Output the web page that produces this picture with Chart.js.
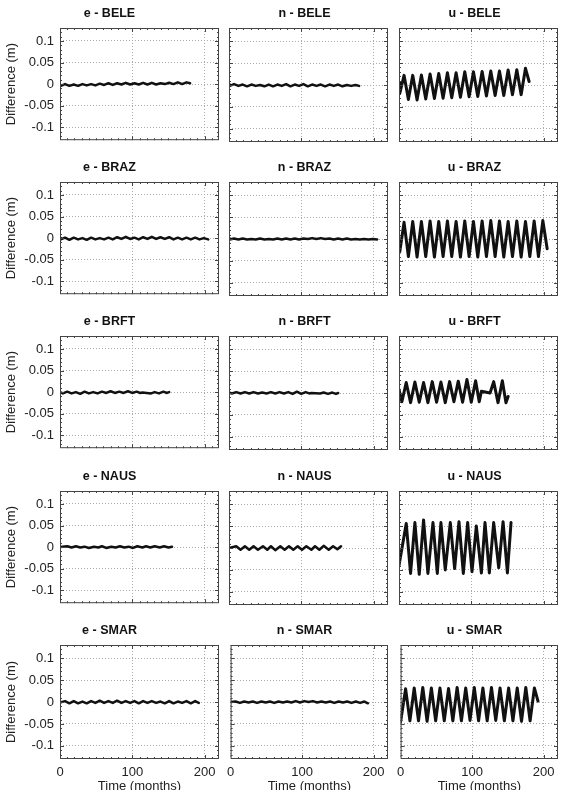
<!DOCTYPE html>
<html>
<head>
<meta charset="utf-8">
<script src="https://cdn.jsdelivr.net/npm/chart.js@4.4.1/dist/chart.umd.min.js"></script>
<style>
  body { margin: 0; background: #fff; width: 564px; height: 790px; position: relative; overflow: hidden; }
  canvas { position: absolute; }
</style>
</head>
<body>
<script>
// ticks
const xTicks = [0, 100, 200];
const yTicks = [-0.1, -0.05, 0, 0.05, 0.1];
const yTickLabels = ["-0.1", "-0.05", "0", "0.05", "0.1"];

// time (months) per station, values (m) per component
const tBELE = [0, 1, 7, 13, 19, 25, 31, 37, 43, 49, 55, 61, 67, 73, 79, 85, 91, 97, 103, 109, 115, 121, 127, 133, 139, 145, 151, 157, 163, 169, 175, 180];
const eBELE = [-0.002, -0.004, 0.000, -0.004, -0.001, -0.004, 0.000, -0.003, 0.000, -0.003, 0.001, -0.002, 0.002, -0.002, 0.002, -0.001, 0.003, -0.001, 0.002, -0.001, 0.003, -0.001, 0.003, -0.001, 0.002, 0.000, 0.003, 0.000, 0.004, 0.000, 0.004, 0.002];
const nBELE = [0.001, -0.002, 0.002, -0.002, 0.001, -0.003, 0.001, -0.002, 0.000, -0.003, 0.001, -0.003, 0.001, -0.002, 0.002, -0.003, 0.001, -0.002, 0.002, -0.003, 0.001, -0.002, 0.001, -0.003, 0.001, -0.002, 0.001, -0.003, 0.000, -0.002, 0.000, -0.002];
const uBELE = [0.005, -0.02, 0.022, -0.033, 0.022, -0.034, 0.023, -0.032, 0.025, -0.031, 0.026, -0.03, 0.028, -0.029, 0.028, -0.028, 0.03, -0.027, 0.03, -0.026, 0.031, -0.025, 0.032, -0.024, 0.032, -0.024, 0.034, -0.022, 0.035, -0.022, 0.038, 0.008];

const tBRAZ = [0, 1, 7, 13, 19, 25, 31, 37, 43, 49, 55, 61, 67, 73, 79, 85, 91, 97, 103, 109, 115, 121, 127, 133, 139, 145, 151, 157, 163, 169, 175, 181, 187, 193, 199, 205];
const eBRAZ = [0.000, -0.003, 0.001, -0.004, 0.001, -0.003, 0.000, -0.004, 0.001, -0.003, 0.000, -0.003, 0.001, -0.003, 0.002, -0.002, 0.003, -0.002, 0.001, -0.003, 0.002, -0.002, 0.003, -0.002, 0.002, -0.002, 0.002, -0.003, 0.001, -0.003, 0.001, -0.003, 0.001, -0.003, 0.000, -0.003];
const nBRAZ = [0.001, -0.001, 0.001, -0.001, 0.001, -0.001, 0.000, -0.001, 0.001, -0.001, 0.000, -0.001, 0.001, -0.001, 0.001, -0.001, 0.001, -0.001, 0.001, 0.000, 0.002, 0.000, 0.002, 0.000, 0.001, -0.001, 0.001, -0.001, 0.001, -0.001, 0.000, -0.001, 0.000, -0.001, 0.000, -0.001];
const uBRAZ = [-0.012, -0.03, 0.038, -0.04, 0.04, -0.041, 0.04, -0.04, 0.041, -0.041, 0.04, -0.04, 0.041, -0.04, 0.04, -0.041, 0.041, -0.04, 0.04, -0.041, 0.041, -0.04, 0.042, -0.04, 0.041, -0.041, 0.04, -0.04, 0.041, -0.041, 0.04, -0.04, 0.041, -0.04, 0.042, -0.022];

const tBRFT = [0, 4, 10, 16, 22, 28, 34, 40, 46, 52, 58, 64, 70, 76, 82, 88, 94, 100, 106, 111, 114, 126, 131, 137, 143, 148, 151];
const eBRFT = [0.000, -0.003, 0.001, -0.003, 0.000, -0.004, 0.001, -0.003, 0.000, -0.003, 0.001, -0.002, 0.002, -0.002, 0.001, -0.002, 0.002, -0.002, 0.001, -0.002, -0.001, -0.003, 0.000, -0.003, 0.001, -0.002, 0.000];
const nBRFT = [0.001, -0.001, 0.002, -0.001, 0.002, -0.001, 0.002, -0.001, 0.001, -0.001, 0.002, -0.001, 0.002, -0.001, 0.002, -0.002, 0.003, -0.002, 0.002, -0.001, 0.000, -0.001, 0.001, -0.002, 0.001, -0.002, 0.000];
const uBRFT = [0.008, -0.02, 0.024, -0.022, 0.025, -0.021, 0.024, -0.022, 0.026, -0.021, 0.025, -0.022, 0.026, -0.02, 0.027, -0.021, 0.031, -0.021, 0.028, -0.02, 0.004, 0.0, 0.026, -0.022, 0.028, -0.022, -0.008];

const tNAUS = [0, 10, 16, 22, 28, 34, 40, 47, 53, 58, 64, 71, 77, 83, 89, 95, 101, 107, 114, 119, 125, 131, 138, 144, 150, 155];
const eNAUS = [0.000, 0.002, -0.001, 0.002, -0.001, 0.001, -0.002, 0.001, -0.001, 0.002, -0.002, 0.001, -0.001, 0.002, -0.001, 0.001, -0.002, 0.002, -0.001, 0.002, -0.001, 0.002, -0.001, 0.002, -0.001, 0.001];
const nNAUS = [0.000, 0.004, -0.004, 0.004, -0.004, 0.004, -0.004, 0.004, -0.004, 0.004, -0.005, 0.004, -0.004, 0.004, -0.004, 0.004, -0.004, 0.004, -0.004, 0.004, -0.004, 0.005, -0.004, 0.004, -0.003, 0.004];
const uNAUS = [-0.04, 0.056, -0.058, 0.058, -0.06, 0.064, -0.058, 0.058, -0.058, 0.058, -0.05, 0.058, -0.047, 0.06, -0.058, 0.058, -0.054, 0.05, -0.057, 0.058, -0.057, 0.058, -0.045, 0.06, -0.057, 0.058];

const tSMAR = [0, 7, 13, 19, 25, 31, 37, 43, 49, 55, 61, 67, 73, 79, 85, 91, 97, 103, 109, 115, 121, 127, 133, 139, 145, 151, 157, 163, 169, 175, 181, 187, 192];
const eSMAR = [-0.001, 0.002, -0.003, 0.002, -0.003, 0.001, -0.003, 0.002, -0.002, 0.003, -0.002, 0.002, -0.002, 0.003, -0.002, 0.002, -0.002, 0.002, -0.003, 0.002, -0.002, 0.002, -0.002, 0.001, -0.003, 0.002, -0.003, 0.001, -0.002, 0.002, -0.003, 0.002, -0.002];
const nSMAR = [0.000, 0.001, -0.002, 0.001, -0.001, 0.001, -0.002, 0.001, -0.001, 0.001, -0.002, 0.001, -0.001, 0.001, -0.001, 0.002, -0.001, 0.002, 0.000, 0.002, -0.001, 0.001, -0.001, 0.001, -0.002, 0.001, -0.001, 0.001, -0.002, 0.001, -0.002, 0.001, -0.003];
const uSMAR = [-0.045, 0.03, -0.043, 0.032, -0.043, 0.033, -0.044, 0.032, -0.043, 0.032, -0.043, 0.031, -0.043, 0.033, -0.043, 0.032, -0.042, 0.033, -0.043, 0.032, -0.043, 0.033, -0.042, 0.032, -0.043, 0.032, -0.043, 0.032, -0.044, 0.033, -0.043, 0.032, 0.002];

const stations = ["BELE", "BRAZ", "BRFT", "NAUS", "SMAR"];
const components = ["e", "n", "u"];
const months = { BELE: tBELE, BRAZ: tBRAZ, BRFT: tBRFT, NAUS: tNAUS, SMAR: tSMAR };
const diffs = {
    BELE: [eBELE, nBELE, uBELE],
    BRAZ: [eBRAZ, nBRAZ, uBRAZ],
    BRFT: [eBRFT, nBRFT, uBRFT],
    NAUS: [eNAUS, nNAUS, uNAUS],
    SMAR: [eSMAR, nSMAR, uSMAR]
};

// layout of the grid
const plotLeft = [60, 229, 399];
const plotTop = [28, 182, 336, 491, 645];
const plotW = 159;
const plotH = 114;
const titleH = 22;
const font = "'Liberation Sans', Arial, sans-serif";

// box with inward ticks, matlab style
const frame = {
    id: "frame",
    afterDraw(chart) {
        const { ctx, chartArea: a, scales: { x, y } } = chart;
        ctx.save();
        ctx.strokeStyle = "#444";
        ctx.lineWidth = 1;
        ctx.strokeRect(a.left + 0.5, a.top + 0.5, a.width - 1, a.height - 1);
        ctx.beginPath();
        for (let m = 10; m < 220; m += 10) {
            const px = Math.round(x.getPixelForValue(m)) + 0.5;
            const len = m % 100 === 0 ? 4 : 2;
            ctx.moveTo(px, a.bottom);
            ctx.lineTo(px, a.bottom - len);
            ctx.moveTo(px, a.top);
            ctx.lineTo(px, a.top + len);
        }
        for (let k = -12; k <= 12; k++) {
            const py = Math.round(y.getPixelForValue(k / 100)) + 0.5;
            const len = k % 5 === 0 ? 4 : 2;
            ctx.moveTo(a.left, py);
            ctx.lineTo(a.left + len, py);
            ctx.moveTo(a.right, py);
            ctx.lineTo(a.right - len, py);
        }
        ctx.stroke();
        ctx.restore();
    }
};

stations.forEach((st, r) => {
    components.forEach((comp, c) => {
        const left = c === 0 ? 0 : plotLeft[c] - 8;
        const yW = plotLeft[c] - left;
        const xH = r === 4 ? 45 : 12;
        const canvas = document.createElement("canvas");
        canvas.width = yW + plotW + 4;
        canvas.height = titleH + plotH + xH;
        canvas.style.left = left + "px";
        canvas.style.top = (plotTop[r] - titleH) + "px";
        document.body.appendChild(canvas);

        const t = months[st];
        const v = diffs[st][c];

        new Chart(canvas, {
            type: "line",
            data: {
                datasets: [{
                    data: t.map((m, i) => ({ x: m, y: v[i] })),
                    borderColor: "#111",
                    borderWidth: comp === "u" ? 3 : 2.5,
                    borderJoinStyle: "round",
                    borderCapStyle: "round",
                    pointRadius: 0,
                    tension: 0
                }]
            },
            options: {
                responsive: false,
                animation: false,
                layout: { padding: { left: 0, right: 4, top: 0, bottom: 0 } },
                plugins: {
                    legend: { display: false },
                    tooltip: { enabled: false },
                    title: {
                        display: true,
                        text: comp + " - " + st,
                        color: "#111",
                        font: { family: font, size: 12.5, weight: "bold", lineHeight: 1 },
                        padding: { top: 1, bottom: 8.5 }
                    }
                },
                scales: {
                    x: {
                        type: "linear",
                        min: 0,
                        max: 220,
                        afterFit: s => { s.height = xH; },
                        afterBuildTicks: s => { s.ticks = xTicks.map(val => ({ value: val })); },
                        grid: { color: "#aaa", drawTicks: false },
                        border: { display: false, dash: [1, 2] },
                        ticks: {
                            display: r === 4,
                            autoSkip: false,
                            maxRotation: 0,
                            padding: 6,
                            color: "#222",
                            font: { family: font, size: 13 }
                        },
                        title: {
                            display: r === 4,
                            text: "Time (months)",
                            color: "#222",
                            font: { family: font, size: 13 },
                            padding: { top: 0, bottom: 10 }
                        }
                    },
                    y: {
                        type: "linear",
                        min: -0.13,
                        max: 0.13,
                        afterFit: s => { s.width = yW; },
                        afterBuildTicks: s => { s.ticks = yTicks.map(val => ({ value: val })); },
                        grid: { color: "#aaa", drawTicks: false },
                        border: { display: false, dash: [1, 2] },
                        ticks: {
                            display: c === 0,
                            autoSkip: false,
                            padding: 6,
                            color: "#222",
                            font: { family: font, size: 13 },
                            callback: val => yTickLabels[yTicks.indexOf(val)]
                        },
                        title: {
                            display: c === 0,
                            text: "Difference (m)",
                            color: "#222",
                            font: { family: font, size: 13 },
                            padding: { top: 4, bottom: 0 }
                        }
                    }
                }
            },
            plugins: [frame]
        });
    });
});
</script>
</body>
</html>
